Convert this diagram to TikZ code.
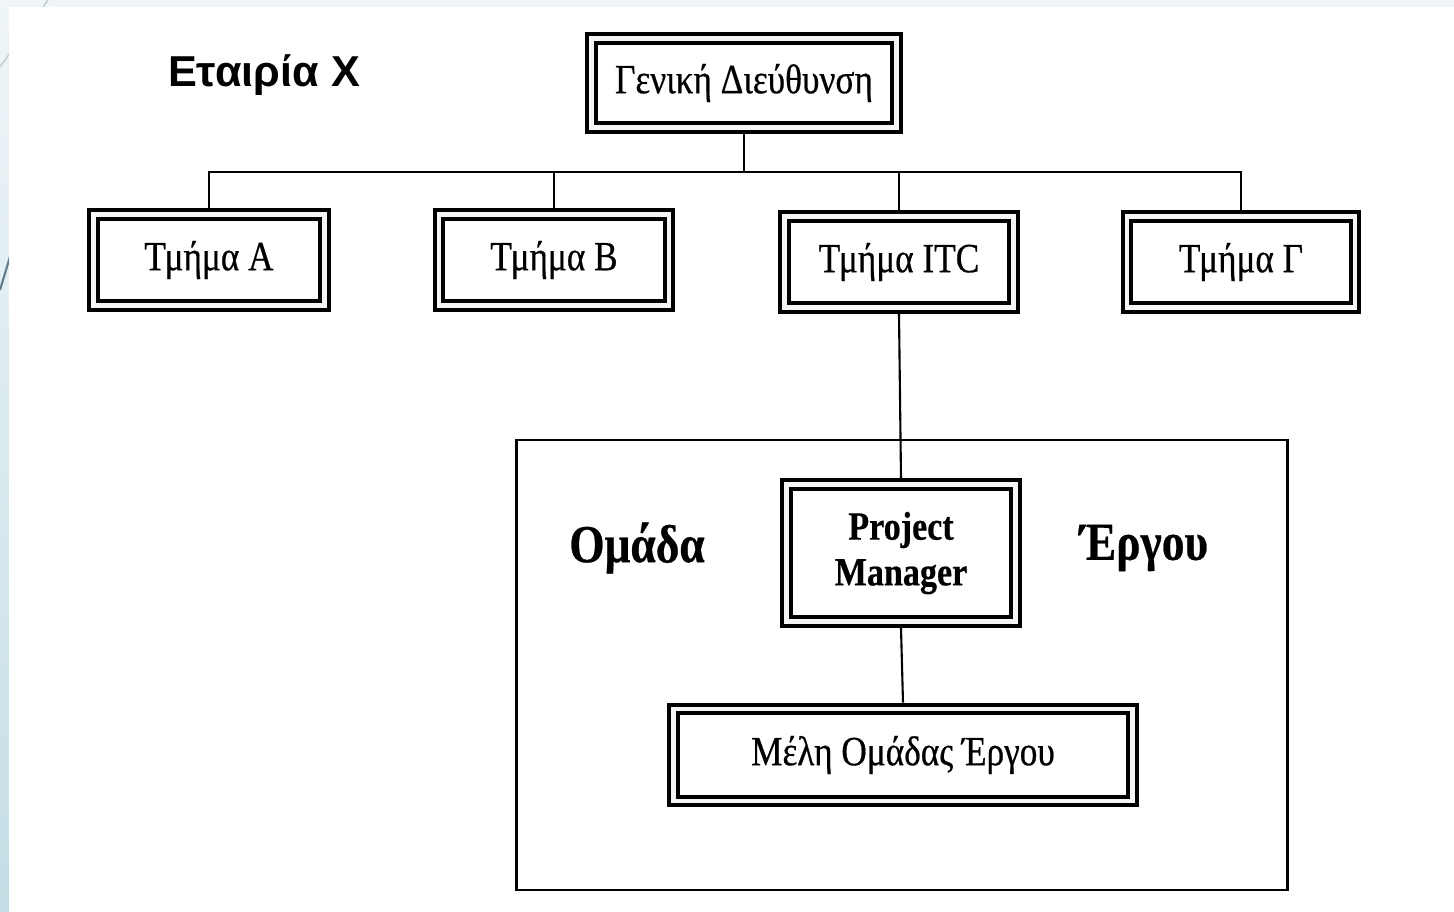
\documentclass[tikz,border=0pt]{standalone}
\usepackage{fontspec}
\setmainfont{Liberation Serif}
\newfontfamily\titlefont{Liberation Sans}
\newfontfamily\boxfont[FakeStretch=0.85, FakeBold=0.5]{Liberation Serif}
\definecolor{slidetop}{HTML}{EFF5F8}
\definecolor{slidebot}{HTML}{C4DEE5}
\definecolor{swoosh}{HTML}{5E7E8E}
\tikzset{
  unitbox/.style={draw=black, line width=1.15pt, double=black!4, double distance=1.35pt,
    outer sep=1.8pt, inner sep=0pt, align=center,
    font=\boxfont\fontsize{11.8}{14}\selectfont},
  link/.style={draw=black, line width=0.6pt},
  teamlabel/.style={font=\boxfont\bfseries\fontsize{15.2}{18}\selectfont, inner sep=0pt},
}
\begin{document}
\begin{tikzpicture}[x=0.01cm, y=-0.01cm]
\useasboundingbox (0,0) rectangle (1454,911);
% slide background: pale blue margin strips with a faint swoosh
\fill[slidetop] (0,0) rectangle (1454,911);
\shade[top color=slidetop, bottom color=slidebot] (0,0) rectangle (9,911);
\draw[swoosh!35, line width=0.5pt] (0,67) -- (48,0);
\draw[swoosh, line width=0.6pt] (0,290) -- (30,190);
\fill[white] (9,7) rectangle (1454,911);

% title
\node[font=\titlefont\bfseries\fontsize{12.3}{15}\selectfont, inner sep=0pt] (title) at (264,75) {Εταιρία X};

% head office and departments
\node[unitbox, minimum width=3.05cm, minimum height=0.89cm] (gd) at (744,83) {Γενική Διεύθυνση};
\node[unitbox, minimum width=2.31cm, minimum height=0.91cm] (ta) at (209,260) {Τμήμα A};
\node[unitbox, minimum width=2.30cm, minimum height=0.91cm] (tb) at (554,260) {Τμήμα B};
\node[unitbox, minimum width=2.29cm, minimum height=0.91cm] (titc) at (899,262) {Τμήμα ITC};
\node[unitbox, minimum width=2.28cm, minimum height=0.91cm] (tg) at (1241,262) {Τμήμα Γ};

% project team frame
\node[draw=black, line width=0.75pt, minimum width=7.70cm, minimum height=4.50cm, inner sep=0pt] (team) at (902,665) {};
\node[teamlabel] (omada) at (637,548) {Ομάδα};
\node[teamlabel] (ergou) at (1144,548) {Έργου};
\node[unitbox, font=\boxfont\bfseries\fontsize{11.4}{13}\selectfont, minimum width=2.29cm, minimum height=1.37cm] (pm) at (901,553) {Project\\Manager};
\node[unitbox, minimum width=4.59cm, minimum height=0.92cm] (mel) at (903,755) {Μέλη Ομάδας Έργου};

% reporting lines
\coordinate (bus) at (744,172);
\draw[link] (gd.south) -- (bus);
\draw[link] (ta.north) -- (ta.north|-bus) -- (tg.north|-bus) -- (tg.north);
\draw[link] (tb.north) -- (tb.north|-bus);
\draw[link] (titc.north) -- (titc.north|-bus);
\draw[link] (titc.south) -- (pm.north);
\draw[link] (pm.south) -- (mel.north);
\end{tikzpicture}
\end{document}
